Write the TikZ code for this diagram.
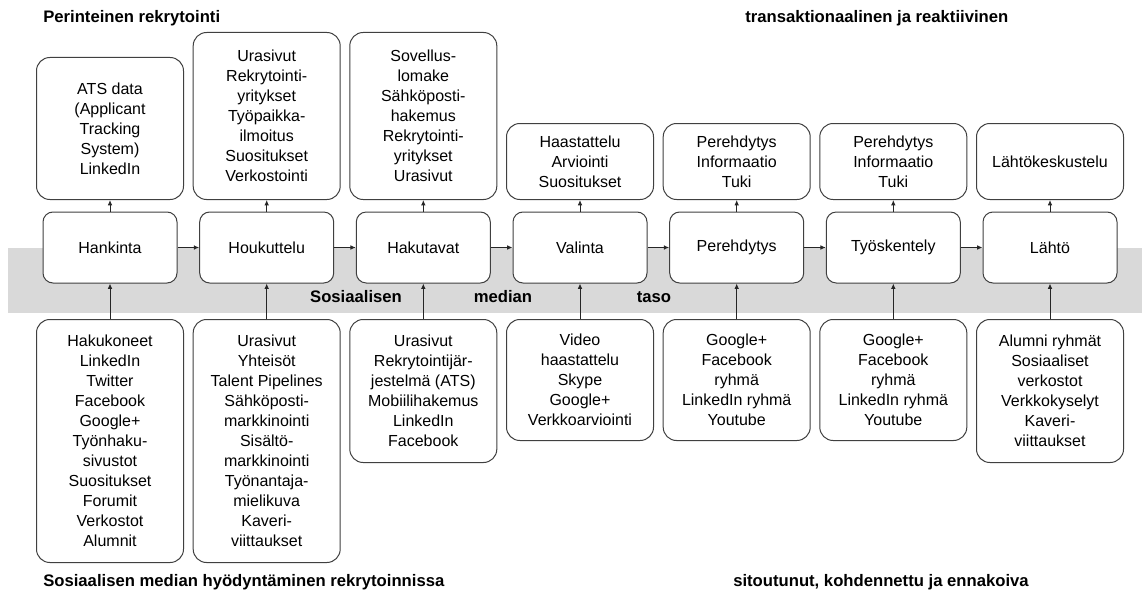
\documentclass[tikz,border=0pt]{standalone}
\usepackage{fontspec}
\setmainfont{Liberation Sans}
\usetikzlibrary{arrows.meta}
\begin{document}
\begin{tikzpicture}[x=0.75pt,y=-0.75pt,
 box/.style={draw=black!75, line width=0.75pt, rounded corners=10pt, fill=white, align=center, inner sep=0pt, font=\fontsize{12}{15}\selectfont, text=black},
 outer/.style={box, minimum width=110.25pt, anchor=north},
 mid/.style={box, minimum width=100.5pt, minimum height=53.25pt, rounded corners=7.5pt},
 arr/.style={-{Latex[length=4pt,width=3.5pt]}, line width=0.75pt, draw=black!85},
 title/.style={font=\fontsize{12.5}{15}\selectfont\bfseries, anchor=west, inner sep=0pt},
 band/.style={font=\fontsize{12.5}{15}\selectfont\bfseries, inner sep=0pt}]
\useasboundingbox (0,0) rectangle (1142,592);
\fill[gray!30] (8,248) rectangle (1142,313);
% band text
\node[band] (s1) at (356,297) {Sosiaalisen};
\node[band] (s2) at (503,297) {median};
\node[band] (s3) at (654,297) {taso};
% middle row
\node[mid] (mA) at (110,247.5) {Hankinta};
\node[mid] (mB) at (266.7,247.5) {Houkuttelu};
\node[mid] (mC) at (423.3,247.5) {Hakutavat};
\node[mid] (mD) at (580,247.5) {Valinta};
\node[mid] (mE) at (736.7,247.5) {Perehdytys};
\node[mid] (mF) at (893.3,247.5) {Työskentely};
\node[mid] (mG) at (1050,247.5) {Lähtö};
% top row
\node[outer, minimum height=106.5pt] (tA) at (110,57) {ATS data\\(Applicant\\Tracking\\System)\\LinkedIn};
\node[outer, minimum height=125.25pt] (tB) at (266.7,32) {Urasivut\\Rekrytointi-\\yritykset\\Työpaikka-\\ilmoitus\\Suositukset\\Verkostointi};
\node[outer, minimum height=125.25pt] (tC) at (423.3,32) {Sovellus-\\lomake\\Sähköposti-\\hakemus\\Rekrytointi-\\yritykset\\Urasivut};
\node[outer, minimum height=57pt] (tD) at (580,123) {Haastattelu\\Arviointi\\Suositukset};
\node[outer, minimum height=57pt] (tE) at (736.7,123) {Perehdytys\\Informaatio\\Tuki};
\node[outer, minimum height=57pt] (tF) at (893.3,123) {Perehdytys\\Informaatio\\Tuki};
\node[outer, minimum height=57pt] (tG) at (1050,123) {Lähtökeskustelu};
% bottom row
\node[outer, minimum height=182.25pt] (bA) at (110,319) {Hakukoneet\\LinkedIn\\Twitter\\Facebook\\Google+\\Työnhaku-\\sivustot\\Suositukset\\Forumit\\Verkostot\\Alumnit};
\node[outer, minimum height=182.25pt] (bB) at (266.7,319) {Urasivut\\Yhteisöt\\Talent Pipelines\\Sähköposti-\\markkinointi\\Sisältö-\\markkinointi\\Työnantaja-\\mielikuva\\Kaveri-\\viittaukset};
\node[outer, minimum height=107.25pt] (bC) at (423.3,319) {Urasivut\\Rekrytointijär-\\jestelmä (ATS)\\Mobiilihakemus\\LinkedIn\\Facebook};
\node[outer, minimum height=90.75pt] (bD) at (580,319) {Video\\haastattelu\\Skype\\Google+\\Verkkoarviointi};
\node[outer, minimum height=90.75pt] (bE) at (736.7,319) {Google+\\Facebook\\ryhmä\\LinkedIn ryhmä\\Youtube};
\node[outer, minimum height=90.75pt] (bF) at (893.3,319) {Google+\\Facebook\\ryhmä\\LinkedIn ryhmä\\Youtube};
\node[outer, minimum height=107.25pt] (bG) at (1050,319) {Alumni ryhmät\\Sosiaaliset\\verkostot\\Verkkokyselyt\\Kaveri-\\viittaukset};
% arrows
\foreach \a/\b in {mA/mB,mB/mC,mC/mD,mD/mE,mE/mF,mF/mG}
  \draw[arr] (\a.east) -- (\b.west);
\foreach \k in {A,B,C,D,E,F,G}{
  \draw[arr] (b\k.north) -- (m\k.south);
  \draw[arr] (m\k.north) -- (t\k.south);
}
% titles
\node[title] (t1) at (43,18) {Perinteinen rekrytointi};
\node[title] (t2) at (745,18) {transaktionaalinen ja reaktiivinen};
\node[title] (t3) at (43,582) {Sosiaalisen median hyödyntäminen rekrytoinnissa};
\node[title] (t4) at (733,582) {sitoutunut, kohdennettu ja ennakoiva};
\end{tikzpicture}
\end{document}
